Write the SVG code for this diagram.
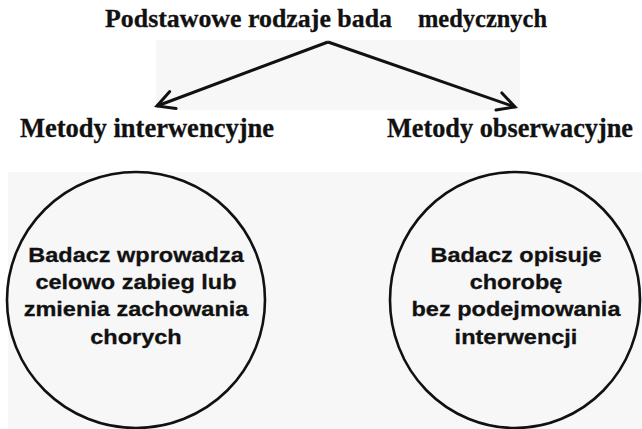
<svg xmlns="http://www.w3.org/2000/svg" width="642" height="429" viewBox="0 0 642 429">
  <style>
    .title { font-family: "Liberation Serif", "Times New Roman", serif; font-weight: bold; fill: #111; stroke: #111; stroke-width: 0.3; }
    .body { font-family: "Liberation Sans", Arial, sans-serif; font-weight: bold; font-size: 21px; fill: #111; stroke: #111; stroke-width: 0.3; text-anchor: middle; }
    .shape { fill: none; stroke: #111; stroke-width: 2.6; }
    .conn { fill: none; stroke: #111; stroke-width: 3; }
    .bg { fill: #f7f7f7; }
  </style>
  <defs>
    <marker id="arrow" markerUnits="userSpaceOnUse" markerWidth="24" markerHeight="24" viewBox="-20 -12 24 24" refX="0" refY="0" orient="auto">
      <path d="M-17,-9 L0,0 L-17,9" fill="none" stroke="#111" stroke-width="3" stroke-linecap="round" stroke-linejoin="miter"/>
    </marker>
  </defs>
  <rect width="642" height="429" fill="#ffffff"/>
  <rect class="bg" x="156" y="40" width="364" height="70"/>
  <rect class="bg" x="8" y="172" width="634" height="257"/>

  <g id="title">
    <text class="title" x="105" y="27" font-size="25.5"><tspan textLength="287" lengthAdjust="spacingAndGlyphs">Podstawowe rodzaje bada</tspan> <tspan x="418" textLength="129" lengthAdjust="spacingAndGlyphs">medycznych</tspan></text>
  </g>

  <g id="connectors">
    <line class="conn" x1="328" y1="42" x2="157" y2="106" marker-end="url(#arrow)"/>
    <line class="conn" x1="328" y1="42" x2="515" y2="107" marker-end="url(#arrow)"/>
  </g>

  <g id="label-interwencyjne">
    <text class="title" x="20" y="137" font-size="26.5" textLength="254" lengthAdjust="spacingAndGlyphs">Metody interwencyjne</text>
  </g>
  <g id="label-obserwacyjne">
    <text class="title" x="387" y="137" font-size="26.5" textLength="246" lengthAdjust="spacingAndGlyphs">Metody obserwacyjne</text>
  </g>

  <g id="node-interwencyjne">
    <ellipse class="shape" cx="136" cy="300" rx="129" ry="128"/>
    <g transform="translate(136,0) scale(1.12,1)">
      <text class="body" x="0" y="262">Badacz wprowadza</text>
      <text class="body" x="0" y="289">celowo zabieg lub</text>
      <text class="body" x="0" y="316">zmienia zachowania</text>
      <text class="body" x="0" y="344">chorych</text>
    </g>
  </g>

  <g id="node-obserwacyjne">
    <ellipse class="shape" cx="515" cy="300" rx="125" ry="128"/>
    <g transform="translate(516,0) scale(1.12,1)">
      <text class="body" x="0" y="262">Badacz opisuje</text>
      <text class="body" x="0" y="289">chorobę</text>
      <text class="body" x="0" y="316">bez podejmowania</text>
      <text class="body" x="0" y="344">interwencji</text>
    </g>
  </g>
</svg>
